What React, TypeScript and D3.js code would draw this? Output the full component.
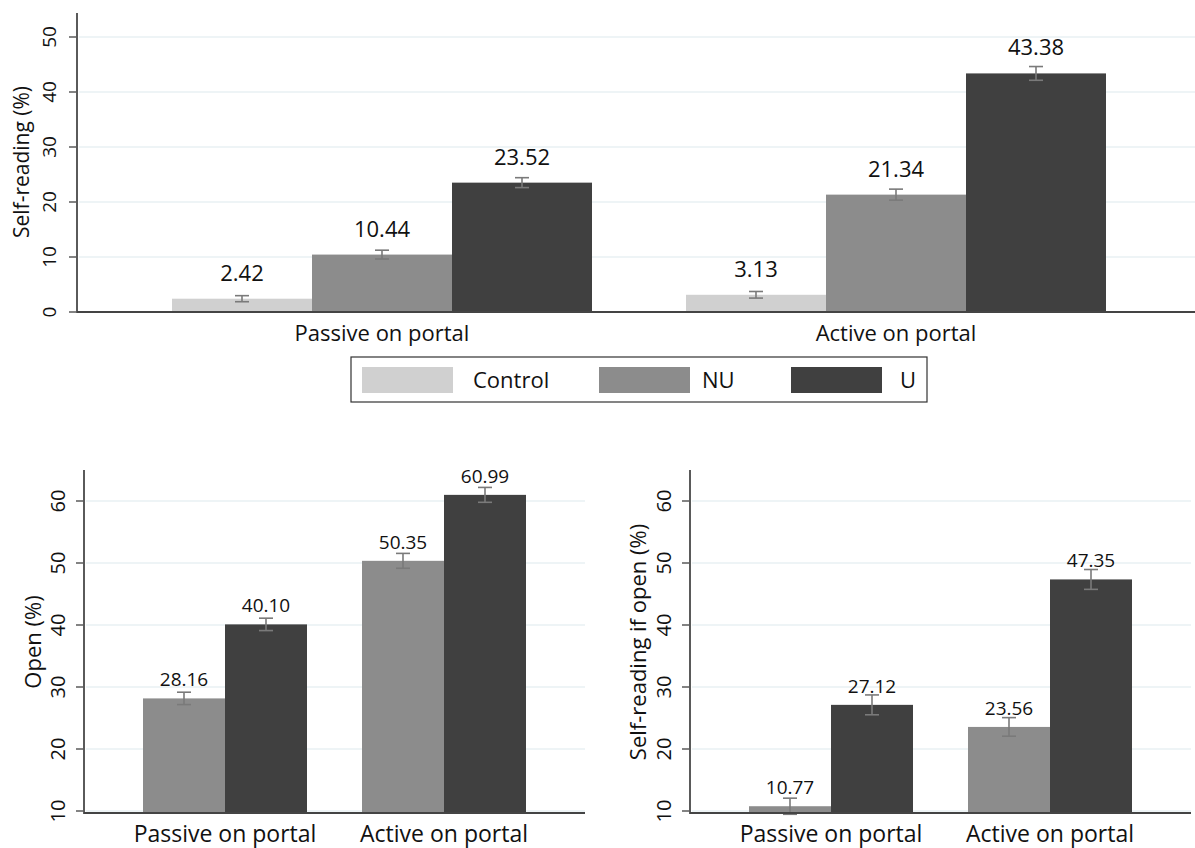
import React, { useEffect, useRef } from 'react';
import * as d3 from 'd3';

// categories / series
const groups = ['Passive on portal', 'Active on portal'];
const series = ['Control', 'NU', 'U'];
const seriesColors = ['#d0d0d0', '#8c8c8c', '#404040'];

// top panel: self-reading (%)
const topValues = [
  [2.42, 10.44, 23.52],
  [3.13, 21.34, 43.38],
];
const topErrors = [
  [0.55, 0.8, 0.9],
  [0.6, 1.0, 1.25],
];
const topTicks = [0, 10, 20, 30, 40, 50];

// bottom-left panel: open (%)
const openSeries = ['NU', 'U'];
const openValues = [
  [28.16, 40.1],
  [50.35, 60.99],
];
const openErrors = [
  [1.0, 1.0],
  [1.2, 1.2],
];

// bottom-right panel: self-reading if open (%)
const srOpenValues = [
  [10.77, 27.12],
  [23.56, 47.35],
];
const srOpenErrors = [
  [1.3, 1.6],
  [1.5, 1.6],
];
const bottomTicks = [10, 20, 30, 40, 50, 60];

const FONT = '"Open Sans", Lato, sans-serif';

interface PanelCfg {
  x0: number; x1: number;       // x axis extent
  yTop: number; yBase: number;  // axis top and baseline in px
  tickRef: [number, number, number, number]; // v0, px0, v1, px1
  ticks: number[];
  keys: string[];
  values: number[][];
  errors: number[][];
  padInner: number; padOuter: number;
  title: string; titleX: number; titleY: number; titleSize: number;
  tickSize: number; tickOffset: number;
  labelSize: number; labelGap: number;
  catSize: number; catY: number;
}

function drawPanel(svg: d3.Selection<SVGSVGElement, unknown, null, undefined>, c: PanelCfg) {
  const g = svg.append('g');
  const [v0, p0, v1, p1] = c.tickRef;
  const pxPerUnit = (p0 - p1) / (v1 - v0);
  const y = d3.scaleLinear()
    .domain([v0 - (c.yBase - p0) / pxPerUnit, v1 + (p1 - c.yTop) / pxPerUnit])
    .range([c.yBase, c.yTop]);
  const yMin = y.domain()[0];

  const x = d3.scaleBand<string>().domain(groups).range([c.x0, c.x1])
    .paddingInner(c.padInner).paddingOuter(c.padOuter);
  const xs = d3.scaleBand<string>().domain(c.keys).range([0, x.bandwidth()]);

  // grid
  g.selectAll('line.grid').data(c.ticks).enter().append('line')
    .attr('x1', c.x0 + 2).attr('x2', c.x1)
    .attr('y1', d => y(d)).attr('y2', d => y(d))
    .attr('stroke', '#e9f0f3').attr('stroke-width', 1.5);

  // bars
  groups.forEach((grp, gi) => {
    c.keys.forEach((k, si) => {
      const v = c.values[gi][si];
      const e = c.errors[gi][si];
      const bx = x(grp)! + xs(k)!;
      const color = seriesColors[series.indexOf(k)];
      g.append('rect')
        .attr('x', bx).attr('width', xs.bandwidth())
        .attr('y', y(v)).attr('height', y(yMin) - y(v))
        .attr('fill', color);
      const cx = bx + xs.bandwidth() / 2;
      const eb = g.append('g').attr('stroke', '#7a7a7a').attr('stroke-width', 1.6);
      eb.append('line').attr('x1', cx).attr('x2', cx).attr('y1', y(v + e)).attr('y2', y(v - e));
      eb.append('line').attr('x1', cx - 7).attr('x2', cx + 7).attr('y1', y(v + e)).attr('y2', y(v + e));
      eb.append('line').attr('x1', cx - 7).attr('x2', cx + 7).attr('y1', y(v - e)).attr('y2', y(v - e));
      g.append('text')
        .attr('x', cx).attr('y', y(v) - c.labelGap)
        .attr('text-anchor', 'middle')
        .style('font-family', FONT).style('font-size', `${c.labelSize}px`).attr('fill', '#111')
        .text(v.toFixed(2));
    });
    g.append('text')
      .attr('x', x(grp)! + x.bandwidth() / 2).attr('y', c.catY)
      .attr('text-anchor', 'middle')
      .style('font-family', FONT).style('font-size', `${c.catSize}px`).attr('fill', '#111')
      .text(grp);
  });

  // axes
  g.append('line').attr('x1', c.x0).attr('x2', c.x0).attr('y1', c.yTop).attr('y2', c.yBase + 1)
    .attr('stroke', '#5a5a5a').attr('stroke-width', 2);
  g.append('line').attr('x1', c.x0).attr('x2', c.x1).attr('y1', c.yBase).attr('y2', c.yBase)
    .attr('stroke', '#444').attr('stroke-width', 2);
  g.selectAll('line.tick').data(c.ticks).enter().append('line')
    .attr('x1', c.x0 - 8).attr('x2', c.x0)
    .attr('y1', d => y(d)).attr('y2', d => y(d))
    .attr('stroke', '#5a5a5a').attr('stroke-width', 1.5);
  g.selectAll('text.tick').data(c.ticks).enter().append('text')
    .attr('transform', d => `translate(${c.x0 - c.tickOffset},${y(d)}) rotate(-90)`)
    .attr('text-anchor', 'middle').attr('dy', '0.35em')
    .style('font-family', FONT).style('font-size', `${c.tickSize}px`).attr('fill', '#111')
    .text(d => d);
  g.append('text')
    .attr('transform', `translate(${c.titleX},${c.titleY}) rotate(-90)`)
    .attr('text-anchor', 'middle').attr('dy', '0.35em')
    .style('font-family', FONT).style('font-size', `${c.titleSize}px`).attr('fill', '#111')
    .text(c.title);
}

const App: React.FC = () => {
  const ref = useRef<SVGSVGElement | null>(null);

  useEffect(() => {
    if (!ref.current) return;
    const svg = d3.select(ref.current);
    svg.selectAll('*').remove();

    drawPanel(svg, {
      x0: 77, x1: 1201, yTop: 13, yBase: 312,
      tickRef: [0, 312, 50, 37], ticks: topTicks,
      keys: series, values: topValues, errors: topErrors,
      padInner: 94 / 514, padOuter: 95 / 514,
      title: 'Self-reading (%)', titleX: 22, titleY: 162, titleSize: 21,
      tickSize: 19, tickOffset: 28, labelSize: 22, labelGap: 18,
      catSize: 22, catY: 341,
    });

    const common = {
      yTop: 470, yBase: 813,
      tickRef: [10, 811, 60, 501] as [number, number, number, number],
      ticks: bottomTicks, keys: openSeries,
      padInner: 55 / 219, padOuter: 59 / 219,
      titleSize: 22, tickSize: 20, tickOffset: 26,
      labelSize: 19, labelGap: 12, catSize: 23, catY: 842,
    };
    drawPanel(svg, {
      ...common, x0: 84, x1: 585, values: openValues, errors: openErrors,
      title: 'Open (%)', titleX: 33, titleY: 642,
    });
    drawPanel(svg, {
      ...common, x0: 690, x1: 1191, values: srOpenValues, errors: srOpenErrors,
      title: 'Self-reading if open (%)', titleX: 638, titleY: 642,
    });

    // legend
    const legend = svg.append('g');
    legend.append('rect').attr('x', 351).attr('y', 357).attr('width', 576).attr('height', 45)
      .attr('fill', '#fff').attr('stroke', '#333').attr('stroke-width', 1.2);
    const swatchX = [362, 599, 791];
    const textX = [473, 702, 900];
    series.forEach((s, i) => {
      legend.append('rect').attr('x', swatchX[i]).attr('y', 367).attr('width', 91).attr('height', 26)
        .attr('fill', seriesColors[i]);
      legend.append('text').attr('x', textX[i]).attr('y', 380).attr('dy', '0.35em')
        .style('font-family', FONT).style('font-size', '22px').attr('fill', '#111')
        .text(s);
    });
  }, []);

  return (
    <div style={{ position: 'absolute', left: 0, top: 0, background: '#fff' }}>
      <svg ref={ref} width={1195} height={848} style={{ display: 'block' }} />
    </div>
  );
};

export default App;
